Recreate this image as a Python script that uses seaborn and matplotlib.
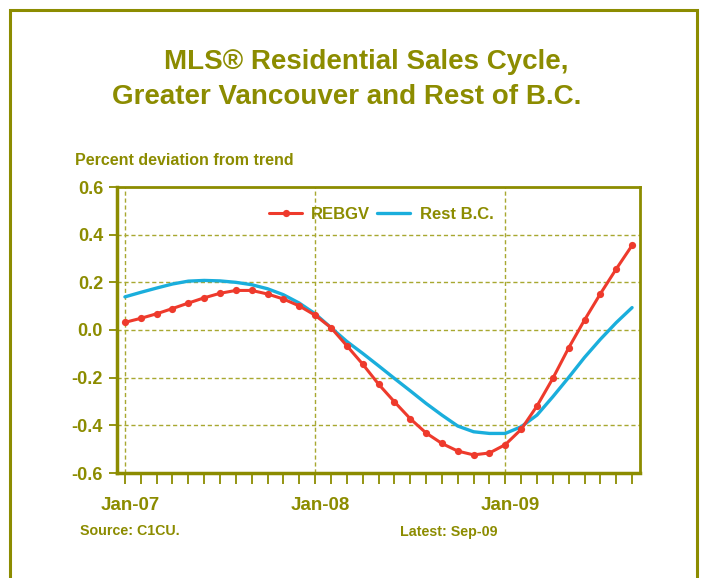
import numpy as np
import pandas as pd
import matplotlib
matplotlib.use("Agg")
import matplotlib.pyplot as plt
import matplotlib.transforms as mtransforms
import seaborn as sns
from matplotlib.patches import Rectangle

# Monthly data, Jan-07 .. Sep-09 (percent deviation from trend)
months = pd.date_range("2007-01-01", "2009-09-01", freq="MS").strftime("%b-%y").tolist()
rebgv = [0.032, 0.049, 0.068, 0.090, 0.113, 0.135, 0.154, 0.166, 0.166, 0.151, 0.130, 0.101,
         0.062, 0.010, -0.066, -0.143, -0.227, -0.301, -0.372, -0.432, -0.476, -0.508, -0.524, -0.516,
         -0.481, -0.417, -0.319, -0.203, -0.075, 0.042, 0.152, 0.256, 0.355]
rest_bc = [0.139, 0.158, 0.176, 0.193, 0.205, 0.208, 0.206, 0.200, 0.190, 0.173, 0.148, 0.113,
           0.068, 0.010, -0.048, -0.098, -0.150, -0.203, -0.255, -0.308, -0.357, -0.403, -0.427, -0.434,
           -0.434, -0.406, -0.357, -0.280, -0.199, -0.115, -0.039, 0.031, 0.094]
xtick_labels = ["Jan-07", "Jan-08", "Jan-09"]
yticks = [-0.6, -0.4, -0.2, 0.0, 0.2, 0.4, 0.6]

OLIVE = "#8c8c00"
GRID = "#a8a830"
RED = "#ee3a2c"
BLUE = "#1aaedc"

sns.set_style("white")
plt.rcParams["font.family"] = ["Liberation Sans", "DejaVu Sans"]
plt.rcParams["font.weight"] = "bold"

df = pd.DataFrame({"month": months, "idx": np.arange(len(months)),
                   "REBGV": rebgv, "Rest B.C.": rest_bc})

fig = plt.figure(figsize=(7.04, 5.78), dpi=100)
ax = fig.add_axes([117 / 704, 1 - 473 / 578, (640 - 117) / 704, (473 - 187) / 578])

# outer frame
fig.patches.append(Rectangle((10 / 704, -0.05), (697 - 10) / 704, 1.05 - 10 / 578,
                             transform=fig.transFigure, fill=False, edgecolor=OLIVE, lw=2.2))

sns.lineplot(data=df, x="idx", y="REBGV", ax=ax, color=RED, lw=2.2, marker="o",
             markersize=5.2, markeredgewidth=0, label="REBGV", zorder=4)
sns.lineplot(data=df, x="idx", y="Rest B.C.", ax=ax, color=BLUE, lw=2.4,
             label="Rest B.C.", zorder=3)

ax.set_xlim(-0.5, len(months) - 0.5)
ax.set_ylim(-0.6, 0.6)
ax.set_xlabel("")
ax.set_ylabel("")

major = [months.index(m) for m in xtick_labels]
ax.set_xticks(major)
ax.set_xticklabels(xtick_labels)
ax.set_xticks(df["idx"], minor=True)
ax.set_yticks(yticks)
ax.set_yticklabels([f"{v:.1f}" for v in yticks])

ax.tick_params(axis="x", which="both", direction="out", length=8, width=1.3,
               color=OLIVE, labelcolor=OLIVE, labelsize=13.5, pad=9, bottom=True)
ax.tick_params(axis="y", which="major", direction="out", length=6, width=1.3,
               color=OLIVE, labelcolor=OLIVE, labelsize=13, pad=4, left=True)
shift = mtransforms.ScaledTranslation(5 / 100, 0, fig.dpi_scale_trans)
for lab in ax.get_xticklabels():
    lab.set_fontweight("bold")
    lab.set_transform(lab.get_transform() + shift)
for lab in ax.get_yticklabels():
    lab.set_fontweight("bold")

for s in ["left", "bottom"]:
    ax.spines[s].set_color(OLIVE)
    ax.spines[s].set_linewidth(2.5)
for s in ["top", "right"]:
    ax.spines[s].set_color(OLIVE)
    ax.spines[s].set_linewidth(2.0)

for v in yticks[1:-1]:
    ax.axhline(v, color=GRID, lw=1, ls=(0, (3, 2)), zorder=1)
for v in major:
    ax.axvline(v, color=GRID, lw=1, ls=(0, (3, 2)), zorder=1)

leg = ax.legend(loc="center", bbox_to_anchor=(0.505, 0.903), ncol=2, frameon=False,
                handlelength=2.0, columnspacing=0.4, handletextpad=0.55,
                prop={"weight": "bold", "size": 12})
for t in leg.get_texts():
    t.set_color(OLIVE)

fig.text(366 / 704, 1 - 62 / 578, "MLS® Residential Sales Cycle,", ha="center", va="center",
         color=OLIVE, fontsize=20, fontweight="bold")
fig.text(347 / 704, 1 - 97 / 578, "Greater Vancouver and Rest of B.C.", ha="center", va="center",
         color=OLIVE, fontsize=20, fontweight="bold")
fig.text(75 / 704, 1 - 161 / 578, "Percent deviation from trend", ha="left", va="center",
         color=OLIVE, fontsize=11.5, fontweight="bold")
fig.text(80 / 704, 1 - 531 / 578, "Source: C1CU.", ha="left", va="center",
         color=OLIVE, fontsize=10.3, fontweight="bold")
fig.text(400 / 704, 1 - 532 / 578, "Latest: Sep-09", ha="left", va="center",
         color=OLIVE, fontsize=10.3, fontweight="bold")

fig.savefig("out.png", dpi=100)
